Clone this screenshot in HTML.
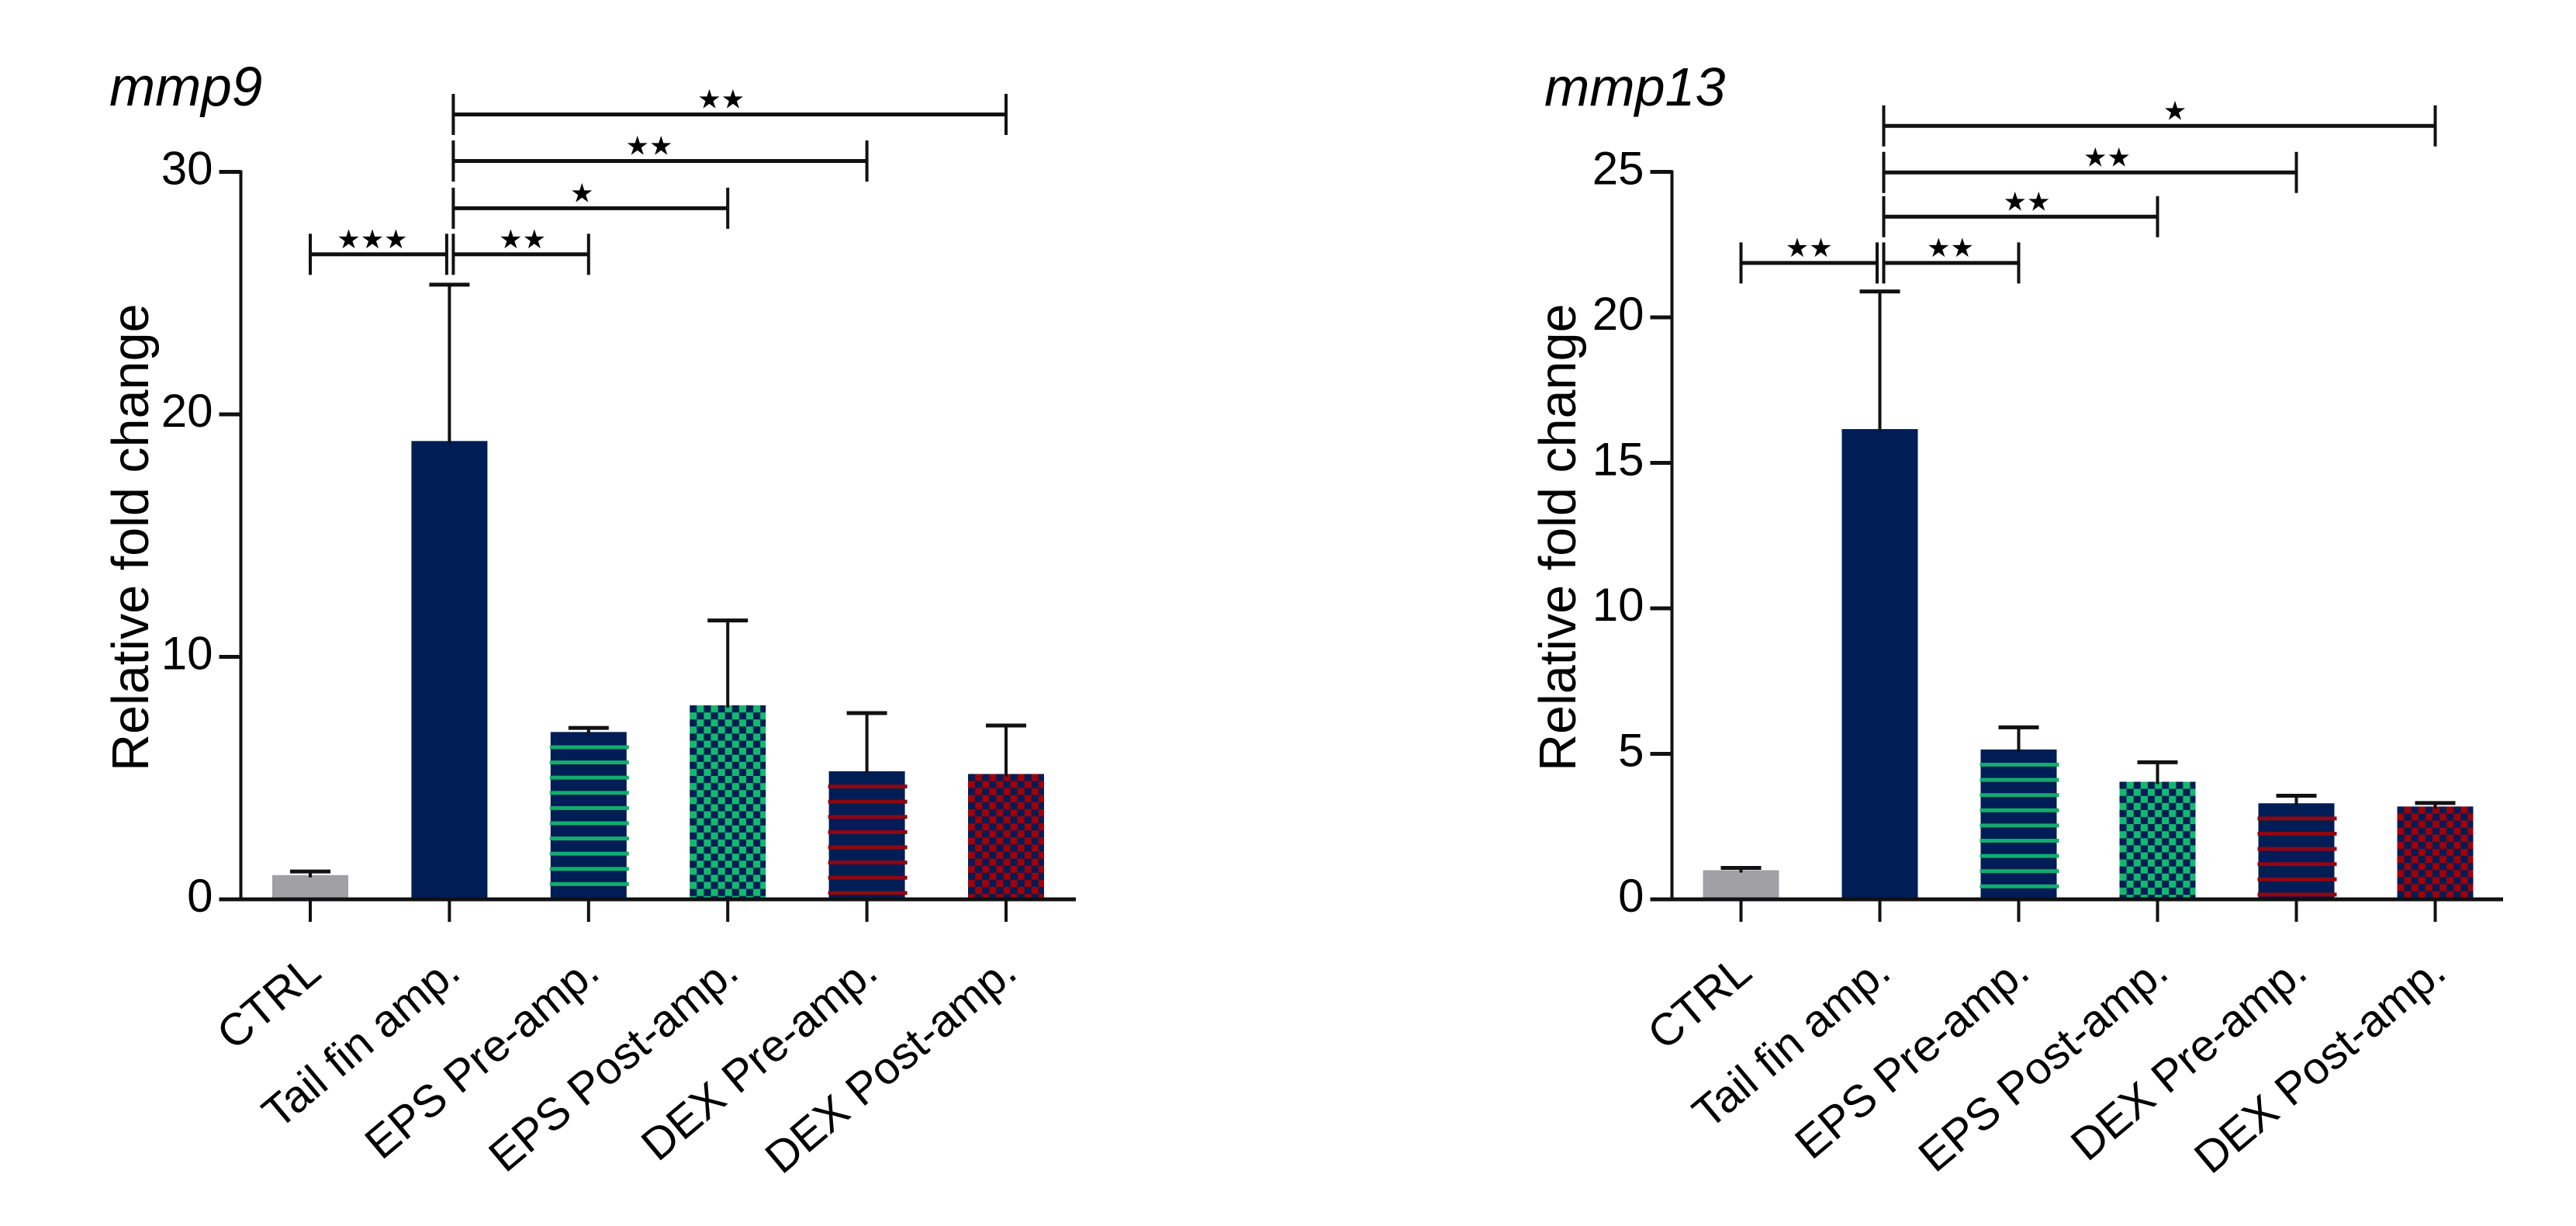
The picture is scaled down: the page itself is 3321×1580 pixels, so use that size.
<!DOCTYPE html>
<html lang="en">
<head>
<meta charset="utf-8">
<title>mmp9 and mmp13 relative fold change</title>
<style>
  html, body { margin: 0; padding: 0; background: #fff; }
  svg { display: block; font-family: "Liberation Sans", Arial, sans-serif; }
</style>
</head>
<body>
<svg id="figure" xmlns="http://www.w3.org/2000/svg" width="3321" height="1580" viewBox="0 0 3321 1580">
  <rect width="3321" height="1580" fill="#ffffff"/>
  <defs id="defs"></defs>
  <g id="chart-mmp9">
    <text x="141" y="136" font-size="71" font-style="italic" fill="#000">mmp9</text>
    <text transform="translate(191 994) rotate(-90)" font-size="66.5" fill="#000">Relative fold change</text>
  </g>
  <g id="chart-mmp13">
    <text x="1991" y="136" font-size="70" font-style="italic" fill="#000">mmp13</text>
    <text transform="translate(2031 994) rotate(-90)" font-size="66.5" fill="#000">Relative fold change</text>
  </g>
</svg>
<script>
const categories = ["CTRL", "Tail fin amp.", "EPS Pre-amp.", "EPS Post-amp.", "DEX Pre-amp.", "DEX Post-amp."];
const barStyles = ["gray", "solid", "stripe-green", "check-green", "stripe-red", "check-red"];

const mmp9Ticks = [0, 10, 20, 30];
const mmp9Values = [1.0, 18.9, 6.9, 8.0, 5.28, 5.17];
const mmp9Errors = [0.15, 6.45, 0.17, 3.5, 2.4, 2.0];
const mmp9BracketTargets = [0, 2, 3, 4, 5];
const mmp9BracketLevels = [26.6, 26.6, 28.5, 30.45, 32.37];
const mmp9BracketLabels = ["★★★", "★★", "★", "★★", "★★"];

const mmp13Ticks = [0, 5, 10, 15, 20, 25];
const mmp13Values = [1.0, 16.16, 5.15, 4.04, 3.3, 3.19];
const mmp13Errors = [0.08, 4.73, 0.76, 0.67, 0.26, 0.12];
const mmp13BracketTargets = [0, 2, 3, 4, 5];
const mmp13BracketLevels = [21.87, 21.87, 23.46, 24.98, 26.58];
const mmp13BracketLabels = ["★★", "★★", "★★", "★★", "★"];

const NS = "http://www.w3.org/2000/svg";
const NAVY = "#001d55";
const GREEN = "#13b96e";
const RED = "#a00008";
const defs = document.getElementById("defs");

function make(parent, tag, attrs) {
  const el = document.createElementNS(NS, tag);
  for (const k in attrs) el.setAttribute(k, attrs[k]);
  parent.appendChild(el);
  return el;
}

function slug(s) {
  return s.toLowerCase().replace(/[^a-z0-9]+/g, "-").replace(/-$/, "");
}

function checkerPattern(id, color, x, y) {
  const cell = 9.1;
  const p = make(defs, "pattern", { id: id, patternUnits: "userSpaceOnUse", x: x, y: y, width: cell * 2, height: cell * 2 });
  make(p, "rect", { width: cell * 2, height: cell * 2, fill: NAVY });
  make(p, "rect", { x: cell, y: 0, width: cell, height: cell, fill: color });
  make(p, "rect", { x: 0, y: cell, width: cell, height: cell, fill: color });
}

function drawChart(cfg) {
  const root = document.getElementById(cfg.rootId);
  const x = function (i) { return cfg.x0 + cfg.step * i; };
  const y = function (v) { return cfg.baseY - v * cfg.unit; };
  const barW = 98;

  // bars
  cfg.values.forEach(function (v, i) {
    const left = x(i) - barW / 2;
    const top = y(v);
    const kind = barStyles[i];
    const barName = cfg.name + "-bar-" + slug(categories[i]);
    let fill = NAVY;
    if (kind === "gray") fill = "#a1a1a5";
    if (kind === "check-green" || kind === "check-red") {
      const pid = cfg.name + "-check-" + i;
      checkerPattern(pid, kind === "check-green" ? GREEN : RED, left, top);
      fill = "url(#" + pid + ")";
    }
    const bar = make(root, "rect", { x: left, y: top, width: barW, height: cfg.baseY - top, fill: fill });
    
    
    if (kind === "stripe-green" || kind === "stripe-red") {
      for (let sy = top + 19.6; sy < cfg.baseY - 3; sy += 19.6) {
        const stripe = make(root, "rect", {
          x: left - 1, y: sy - 2.5, width: barW + 4, height: 5,
          fill: kind === "stripe-green" ? "#12ad6c" : "#8f0612"
        });
        
        
      }
    }
  });

  // error bars
  cfg.values.forEach(function (v, i) {
    const topY = y(v + cfg.errors[i]);
    const stem = make(root, "line", { x1: x(i), x2: x(i), y1: y(v) + 3, y2: topY, stroke: "#111", "stroke-width": 4 });
    
    
    const cap = make(root, "line", { x1: x(i) - 26, x2: x(i) + 26, y1: topY, y2: topY, stroke: "#111", "stroke-width": 5 });
    
    
  });

  // y axis
  const yMax = cfg.ticks[cfg.ticks.length - 1];
  const yAxis = make(root, "line", { x1: cfg.axisX, x2: cfg.axisX, y1: y(yMax) - 2, y2: cfg.baseY, stroke: "#111", "stroke-width": 4 });
  
  
  cfg.ticks.forEach(function (t) {
    const tick = make(root, "line", { x1: cfg.axisX - 28, x2: cfg.axisX, y1: y(t), y2: y(t), stroke: "#111", "stroke-width": 5 });
    
    
    const lab = make(root, "text", { x: cfg.axisX - 36, y: y(t) + 16, "font-size": 60, "text-anchor": "end", fill: "#000" });
    lab.textContent = String(t);
    
    
  });

  // x axis
  const xAxis = make(root, "line", { x1: cfg.axisX - 28, x2: cfg.axisEnd, y1: cfg.baseY, y2: cfg.baseY, stroke: "#111", "stroke-width": 5 });
  
  
  categories.forEach(function (c, i) {
    const tick = make(root, "line", { x1: x(i), x2: x(i), y1: cfg.baseY, y2: cfg.baseY + 29, stroke: "#111", "stroke-width": 4 });
    
    
    const lab = make(root, "text", {
      transform: "translate(" + (x(i) + 17) + " 1258) rotate(-40)",
      "font-size": 58, "text-anchor": "end", fill: "#000"
    });
    lab.textContent = c;
    
    
  });

  // significance brackets
  cfg.targets.forEach(function (t, k) {
    const by = y(cfg.levels[k]);
    const x1 = t === 0 ? x(0) : x(1) + 5;
    const x2 = t === 0 ? x(1) - 3.5 : x(t);
    const g = make(root, "g", {});
    
    
    make(g, "line", { x1: x1, x2: x2, y1: by, y2: by, stroke: "#111", "stroke-width": 5 });
    make(g, "line", { x1: x1, x2: x1, y1: by - 26.5, y2: by + 26.5, stroke: "#111", "stroke-width": 4 });
    make(g, "line", { x1: x2, x2: x2, y1: by - 26.5, y2: by + 26.5, stroke: "#111", "stroke-width": 4 });
    const star = make(g, "text", {
      x: (x1 + x2) / 2 + cfg.starShift[k], y: by - 8,
      "font-size": 34, "text-anchor": "middle", fill: "#000",
      "font-family": '"DejaVu Sans", sans-serif'
    });
    star.textContent = cfg.labels[k];
    
    
  });
}

drawChart({
  name: "mmp9", rootId: "chart-mmp9",
  x0: 400, step: 179.4, baseY: 1159, unit: 31.25, axisX: 310.5, axisEnd: 1387,
  ticks: mmp9Ticks, values: mmp9Values, errors: mmp9Errors,
  targets: mmp9BracketTargets, levels: mmp9BracketLevels, labels: mmp9BracketLabels,
  starShift: [-8, 2, -11, -14, -11]
});

drawChart({
  name: "mmp13", rootId: "chart-mmp13",
  x0: 2244.5, step: 179, baseY: 1159, unit: 37.5, axisX: 2155.5, axisEnd: 3227,
  ticks: mmp13Ticks, values: mmp13Values, errors: mmp13Errors,
  targets: mmp13BracketTargets, levels: mmp13BracketLevels, labels: mmp13BracketLabels,
  starShift: [0, -1, 8, 22, 20]
});
</script>
</body>
</html>
